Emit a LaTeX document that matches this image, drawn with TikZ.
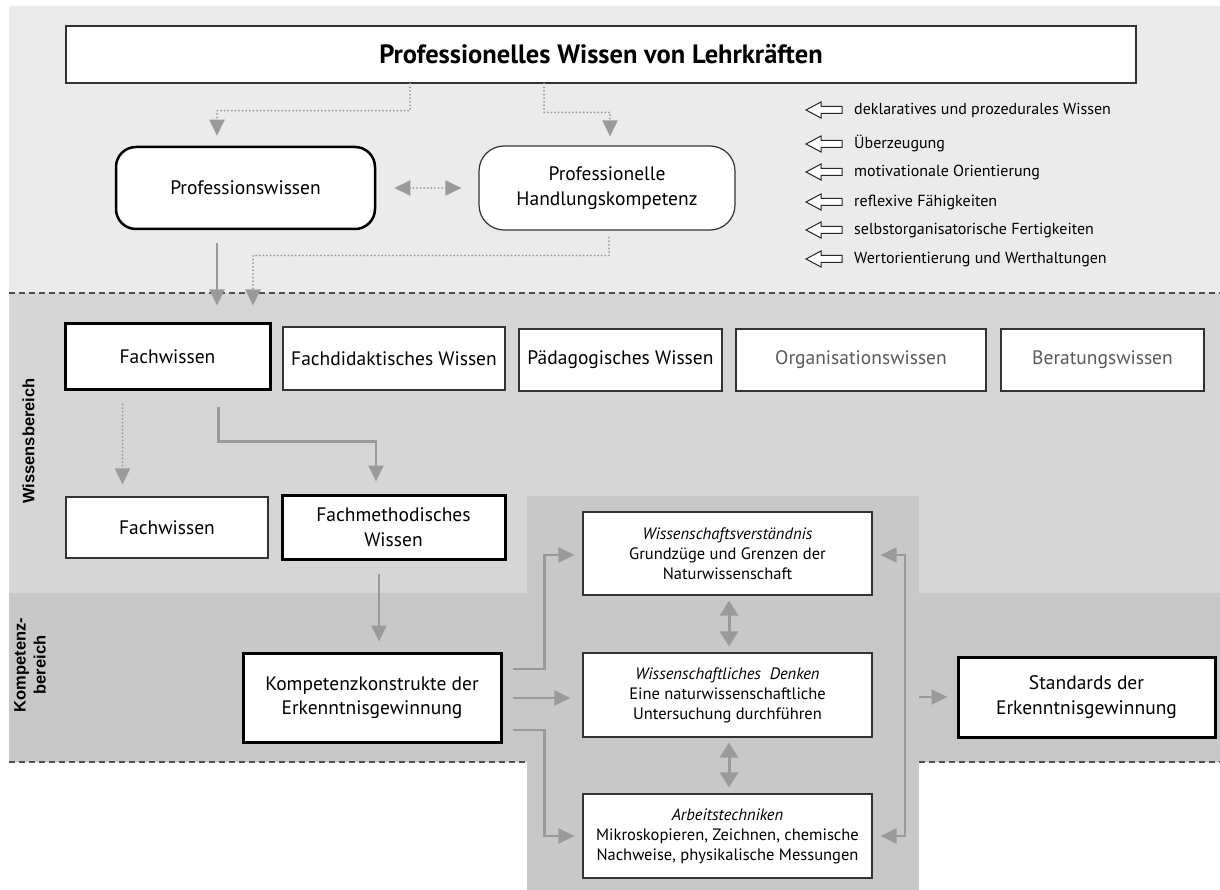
\documentclass[tikz,border=0pt]{standalone}
\usepackage{fontspec}
\setmainfont{PT Sans}
\newfontfamily\labelfont{Liberation Sans}
\usetikzlibrary{arrows.meta,calc}

\definecolor{bandA}{HTML}{EBEBEB}
\definecolor{bandB}{HTML}{D6D6D6}
\definecolor{bandC}{HTML}{C8C8C8}
\definecolor{arrowgray}{HTML}{9A9A9A}
\definecolor{framegray}{HTML}{333333}
\definecolor{textgray}{HTML}{5A5A5A}
\definecolor{rulegray}{HTML}{505050}

\begin{document}
\begin{tikzpicture}[x=1pt,y=-1pt,
  box/.style={draw=framegray, line width=1.2pt, fill=white, align=center,
    inner sep=2pt, font=\fontsize{19.5}{24.5}\selectfont},
  thickbox/.style={box, draw=black, line width=3pt},
  smallbox/.style={box, font=\fontsize{16.5}{20}\selectfont},
  tipA/.style={-{Triangle[length=16pt,width=15pt]}},
  conn/.style={draw=arrowgray, line width=2.2pt, tipA},
  connboth/.style={draw=arrowgray, line width=3pt,
    {Triangle[length=15pt,width=18pt]}-{Triangle[length=15pt,width=18pt]}},
  dotconn/.style={draw=arrowgray, line width=2pt, line cap=round,
    dash pattern=on 0pt off 3.6pt, tipA},
  dotboth/.style={draw=arrowgray, line width=2pt, line cap=round,
    dash pattern=on 0pt off 3.6pt,
    {Triangle[length=16pt,width=15pt]}-{Triangle[length=16pt,width=15pt]}},
  sepline/.style={draw=rulegray, line width=1.2pt, dash pattern=on 6pt off 4pt},
  legtext/.style={inner sep=0pt, anchor=west, text height=12pt, text depth=3pt,
    font=\fontsize{16}{19}\selectfont},
  legarrow/.style={draw=black!85, line width=1pt, fill=white},
  sidelabel/.style={rotate=90, align=center, inner sep=0pt,
    font=\labelfont\bfseries\fontsize{16.5}{20}\selectfont}
]
\useasboundingbox (0,0) rectangle (1220,890);

% background bands
\fill[bandA] (8.7,6) rectangle (1220,293);
\fill[bandB] (8.7,293) rectangle (1220,593);
\fill[bandC] (8.7,593) rectangle (1220,762);
\node[fill=bandC, minimum width=392pt, minimum height=394pt, inner sep=0pt] (col) at (723,693) {};

% band separators
\draw[sepline] (8.7,293) -- (1220,293);
\draw[sepline] (8.7,762) -- (527,762);
\draw[sepline] (919,762) -- (1220,762);

% side labels
\node[sidelabel] (lblW) at (28.5,441) {Wissensbereich};
\node[sidelabel] (lblK) at (30,665) {Kompetenz-\\bereich};

% top level
\node[box, draw=framegray, line width=1.5pt, minimum width=1070pt, minimum height=57pt,
  font=\bfseries\fontsize{26.5}{31}\selectfont] (title) at (601,54.5)
  {Professionelles Wissen von Lehrkräften};
\node[thickbox, line width=2.5pt, rounded corners=20pt, minimum width=259pt, minimum height=82pt]
  (pw) at (245.5,188) {Professionswissen};
\node[box, rounded corners=25pt, minimum width=256pt, minimum height=84pt]
  (phk) at (607,188) {Professionelle\\Handlungskompetenz};

% legend
\foreach \y/\t [count=\i] in {110/deklaratives und prozedurales Wissen,
    144/Überzeugung, 172/motivationale Orientierung, 202/reflexive Fähigkeiten,
    230/selbstorganisatorische Fertigkeiten, 259/Wertorientierung und Werthaltungen} {
  \node[legtext] (leg\i) at (854,\y) {\t};
  \draw[legarrow] ([xshift=-48pt]leg\i.west) -- ++(15pt,8pt) -- ++(0,-4.5pt) -- ++(21pt,0)
    -- ++(0,-7pt) -- ++(-21pt,0) -- ++(0,-4.5pt) -- cycle;
}

% knowledge domains
\node[thickbox, minimum width=205pt, minimum height=65pt] (fw1) at (167.5,356.5) {Fachwissen};
\node[box, minimum width=222pt, minimum height=63pt] (fdw) at (394,358.5) {Fachdidaktisches Wissen};
\node[box, minimum width=203pt, minimum height=62pt] (pdw) at (620.5,360) {Pädagogisches Wissen};
\node[box, minimum width=250pt, minimum height=62pt, text=textgray] (orgw) at (861,360) {Organisationswissen};
\node[box, minimum width=203pt, minimum height=62pt, text=textgray] (berw) at (1102.5,360) {Beratungswissen};

\node[box, minimum width=202pt, minimum height=61pt] (fw2) at (167,527.5) {Fachwissen};
\node[thickbox, minimum width=223pt, minimum height=64pt] (fmw) at (393.5,527) {Fachmethodisches\\Wissen};

% competence domain
\node[thickbox, minimum width=258pt, minimum height=89pt] (kk) at (372,697.5)
  {Kompetenzkonstrukte der\\Erkenntnisgewinnung};
\node[smallbox, minimum width=289pt, minimum height=83pt] (ws1) at (727.5,553.5)
  {{\itshape Wissenschaftsverständnis}\\Grundzüge und Grenzen der\\Naturwissenschaft};
\node[smallbox, minimum width=289pt, minimum height=84pt] (ws2) at (727.5,695)
  {{\itshape Wissenschaftliches\ \ Denken}\\Eine naturwissenschaftliche\\Untersuchung durchführen};
\node[smallbox, minimum width=289pt, minimum height=84pt] (ws3) at (727.5,836)
  {{\itshape Arbeitstechniken}\\Mikroskopieren, Zeichnen, chemische\\Nachweise, physikalische Messungen};
\node[thickbox, minimum width=257pt, minimum height=80pt] (std) at (1086.5,697)
  {Standards der\\Erkenntnisgewinnung};

% connectors: top level
\draw[dotconn, shorten >=10pt] ([xshift=-191pt]title.south) |- ([xshift=-28.5pt,yshift=35pt]pw.north)
  -- ([xshift=-28.5pt]pw.north);
\draw[dotconn, shorten >=9pt] ([xshift=-57pt]title.south) |- ([xshift=3pt,yshift=33pt]phk.north)
  -- ([xshift=3pt]phk.north);
\draw[dotboth, shorten <=18pt, shorten >=17pt] (pw.east) -- (pw.east -| phk.west);
\draw[conn, shorten <=13pt, shorten >=17pt] ([xshift=-28.5pt]pw.south) -- ([xshift=-28.5pt]pw.south |- fw1.north);
\draw[dotconn, shorten <=7pt, shorten >=17pt] ([xshift=2pt]phk.south) |- ([xshift=85.5pt,yshift=67pt]fw1.north)
  -- ([xshift=85.5pt]fw1.north);

% connectors: knowledge domain
\draw[dotconn, shorten <=14pt, shorten >=12pt] ([xshift=-45pt]fw1.south) -- ([xshift=-45pt]fw1.south |- fw2.north);
\draw[conn, shorten <=16pt, shorten >=12pt] ([xshift=51pt]fw1.south) |- ([xshift=-17.5pt,yshift=52pt]fmw.north)
  -- ([xshift=-17.5pt]fmw.north);
\draw[conn, shorten <=13pt, shorten >=10pt] ([xshift=-14.5pt]fmw.south) -- ([xshift=-14.5pt]fmw.south |- kk.north);

% connectors: competence domain
\draw[conn, shorten <=10pt, shorten >=8pt] ([yshift=28.5pt]kk.east) -| ([xshift=-38pt,yshift=-1.5pt]ws1.west)
  -- ([yshift=-1.5pt]ws1.west);
\draw[conn, shorten <=10pt, shorten >=12pt] ([yshift=-0.5pt]kk.east) -- ([yshift=-0.5pt]kk.east -| ws2.west);
\draw[conn, shorten <=10pt, shorten >=8pt] ([yshift=-32.5pt]kk.east) -| ([xshift=-38pt]ws3.west) -- (ws3.west);
\draw[conn, line width=2pt, {Triangle[length=16pt,width=15pt]}-{Triangle[length=16pt,width=15pt]},
  shorten <=8pt, shorten >=8pt] ([yshift=-1.5pt]ws1.east) -| ([xshift=32pt]ws3.east) -- (ws3.east);
\draw[connboth, shorten <=5pt, shorten >=6pt] ([xshift=1.5pt]ws1.south) -- ([xshift=1.5pt]ws1.south |- ws2.north);
\draw[connboth, shorten <=5pt, shorten >=6pt] ([xshift=1.5pt]ws2.south) -- ([xshift=1.5pt]ws2.south |- ws3.north);
\draw[conn, shorten >=9pt] (std.west -| col.east) -- (std.west);

\end{tikzpicture}
\end{document}
